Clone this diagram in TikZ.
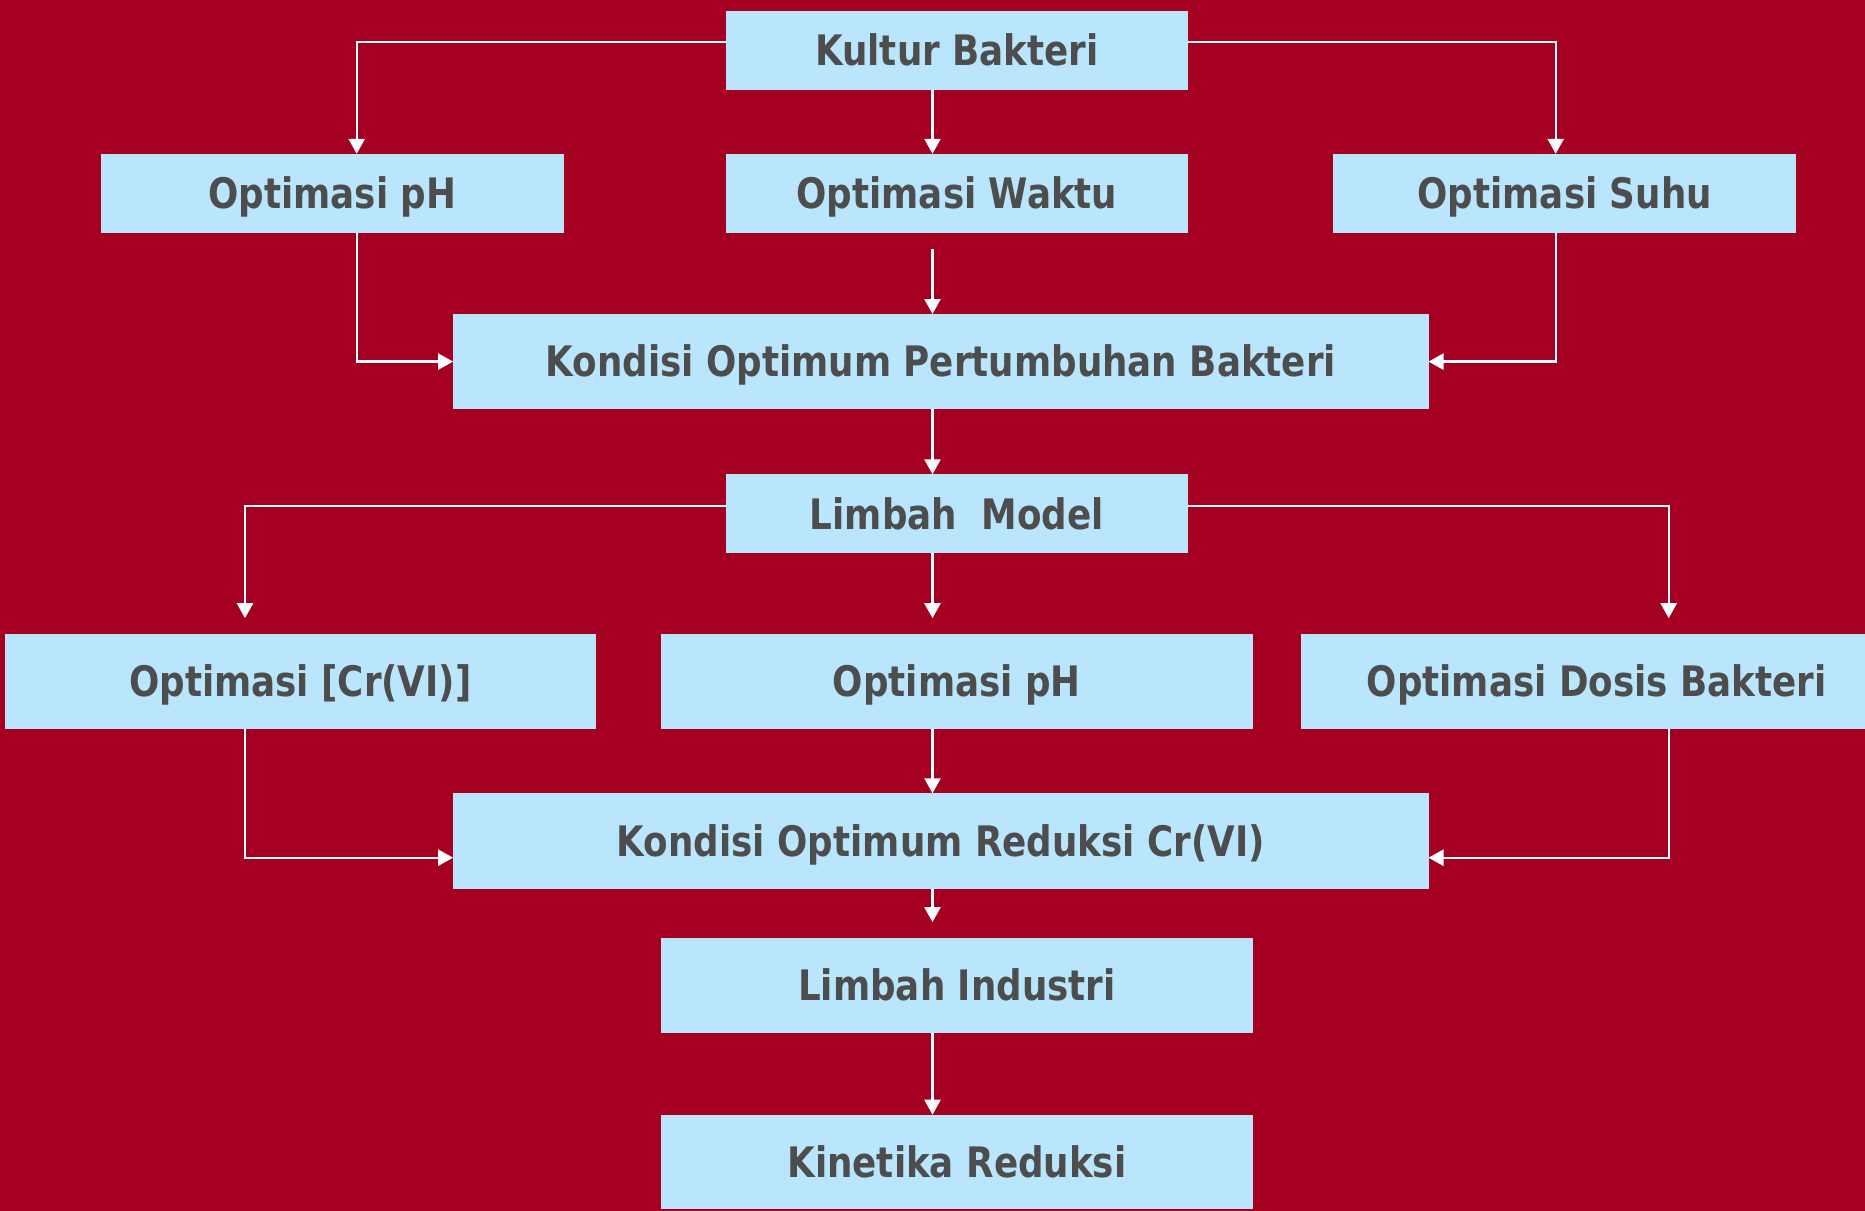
\documentclass[tikz,border=0pt]{standalone}
\usepackage{fontspec}
\newfontfamily\boxfont{DejaVu Sans}[FakeStretch=0.85]
\usetikzlibrary{arrows.meta}
\definecolor{bgred}{HTML}{A50021}
\definecolor{boxblue}{HTML}{B9E6FC}
\definecolor{textgray}{HTML}{4D4D4D}
\begin{document}
\begin{tikzpicture}[x=0.5pt, y=-0.5pt,
    box/.style={fill=boxblue, text=textgray, inner sep=0pt, outer sep=0pt,
      font=\boxfont\bfseries\fontsize{21pt}{25pt}\selectfont,
      text height=15.3pt, text depth=0pt},
    small/.style={box, minimum width=231.4pt, minimum height=39.5pt},
    wide/.style={box, minimum width=487.7pt, minimum height=47.6pt},
    mid/.style={box, minimum width=295.6pt, minimum height=47.3pt},
    arr/.style={-{Triangle[width=8pt,length=7.5pt]}, draw=white, line width=1.2pt}]
  \fill[bgred] (0,0) rectangle (1865,1211);
  \useasboundingbox (0,0) rectangle (1865,1211);
  % columns of the connectors
  \coordinate (cm) at (932.5,0); \coordinate (c1) at (356.7,0);
  \coordinate (c3) at (1555.7,0); \coordinate (c4) at (245,0);
  \coordinate (c5) at (1668.7,0);
  % boxes
  \node[small] (kultur) at (956.9,50) {Kultur Bakteri};
  \node[small] (ph1) at (332.4,193.3) {Optimasi pH};
  \node[small] (waktu) at (956.9,193.3) {Optimasi Waktu};
  \node[small] (suhu) at (1564.7,193.3) {Optimasi Suhu};
  \node[wide] (tumbuh) at (940.8,361.6) {Kondisi Optimum Pertumbuhan Bakteri};
  \node[small] (model) at (956.9,513.8) {Limbah\ \ Model};
  \node[mid] (cr) at (300.3,681.5) {Optimasi [Cr(VI)]};
  \node[mid] (ph2) at (956.9,681.5) {Optimasi pH};
  \node[mid] (dosis) at (1596.7,681.5) {Optimasi Dosis Bakteri};
  \node[wide] (reduksi) at (940.8,840.9) {Kondisi Optimum Reduksi Cr(VI)};
  \node[mid] (industri) at (956.9,985.4) {Limbah Industri};
  \node[mid] (kinetika) at (956.9,1162) {Kinetika Reduksi};
  % connectors
  \draw[arr] ([yshift=4pt]kultur.west) -| (c1 |- ph1.north);
  \draw[arr] (kultur.south -| cm) -- (waktu.north -| cm);
  \draw[arr] ([yshift=4pt]kultur.east) -| (c3 |- suhu.north);
  \draw[arr] (c1 |- ph1.south) |- (tumbuh.west);
  \draw[arr, shorten <=8pt] (waktu.south -| cm) -- (tumbuh.north -| cm);
  \draw[arr] (c3 |- suhu.south) |- (tumbuh.east);
  \draw[arr] (tumbuh.south -| cm) -- (model.north -| cm);
  \draw[arr, shorten >=8pt] ([yshift=4pt]model.west) -| (c4 |- cr.north);
  \draw[arr, shorten >=8pt] (model.south -| cm) -- (ph2.north -| cm);
  \draw[arr, shorten >=8pt] ([yshift=4pt]model.east) -| (c5 |- dosis.north);
  \draw[arr] (c4 |- cr.south) |- ([yshift=-8.4pt]reduksi.west);
  \draw[arr] (ph2.south -| cm) -- (reduksi.north -| cm);
  \draw[arr] (c5 |- dosis.south) |- ([yshift=-8.4pt]reduksi.east);
  \draw[arr, shorten >=8pt] (reduksi.south -| cm) -- (industri.north -| cm);
  \draw[arr] (industri.south -| cm) -- (kinetika.north -| cm);
\end{tikzpicture}
\end{document}
